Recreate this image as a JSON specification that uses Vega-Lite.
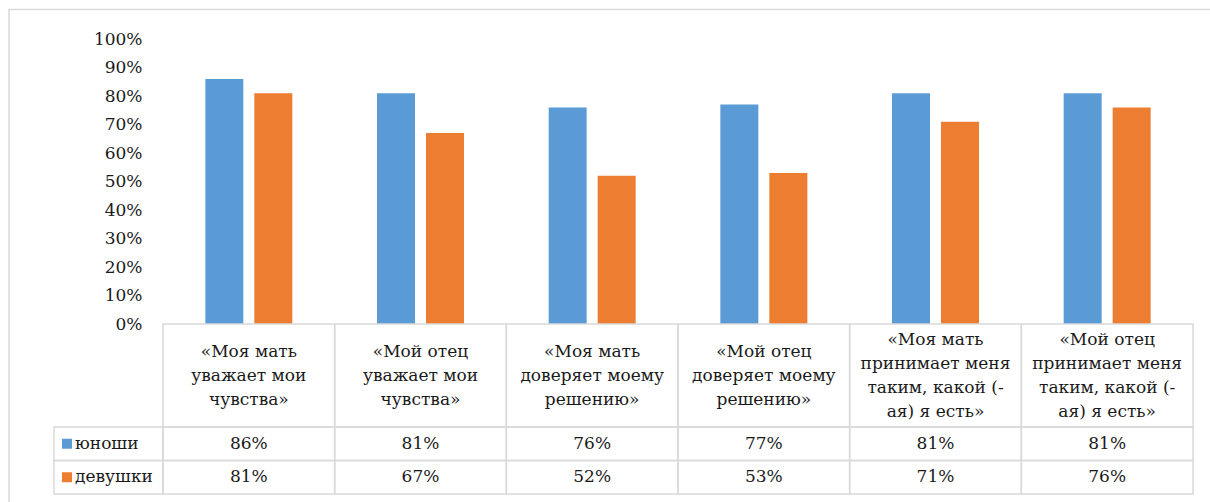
{
  "$schema": "https://vega.github.io/schema/vega-lite/v6.json",
  "width": 1030,
  "height": 285,
  "autosize": {"type": "none"},
  "padding": {"left": 163, "top": 39, "right": 17, "bottom": 178},
  "background": "white",
  "config": {
    "view": {"stroke": null},
    "font": "DejaVu Serif",
    "text": {"font": "DejaVu Serif", "fontSize": 17, "color": "#1a1a1a"}
  },
  "data": {
    "values": [
      {"category": "«Моя мать\nуважает мои\nчувства»", "group": "юноши", "value": 0.86},
      {"category": "«Моя мать\nуважает мои\nчувства»", "group": "девушки", "value": 0.81},
      {"category": "«Мой отец\nуважает мои\nчувства»", "group": "юноши", "value": 0.81},
      {"category": "«Мой отец\nуважает мои\nчувства»", "group": "девушки", "value": 0.67},
      {"category": "«Моя мать\nдоверяет моему\nрешению»", "group": "юноши", "value": 0.76},
      {"category": "«Моя мать\nдоверяет моему\nрешению»", "group": "девушки", "value": 0.52},
      {"category": "«Мой отец\nдоверяет моему\nрешению»", "group": "юноши", "value": 0.77},
      {"category": "«Мой отец\nдоверяет моему\nрешению»", "group": "девушки", "value": 0.53},
      {"category": "«Моя мать\nпринимает меня\nтаким, какой (-\nая) я есть»", "group": "юноши", "value": 0.81},
      {"category": "«Моя мать\nпринимает меня\nтаким, какой (-\nая) я есть»", "group": "девушки", "value": 0.71},
      {"category": "«Мой отец\nпринимает меня\nтаким, какой (-\nая) я есть»", "group": "юноши", "value": 0.81},
      {"category": "«Мой отец\nпринимает меня\nтаким, какой (-\nая) я есть»", "group": "девушки", "value": 0.76}
    ]
  },
  "layer": [
    {
      "data": {"values": [{"frame": "frame"}]},
      "mark": {"type": "rect", "fillOpacity": 0, "stroke": "#d9d9d9", "strokeWidth": 1.5},
      "encoding": {
        "x": {"field": "frame", "type": "nominal", "axis": null, "scale": {"range": [-154, 1070], "paddingInner": 0, "paddingOuter": 0}},
        "y": {"field": "frame", "type": "nominal", "axis": null, "scale": {"range": [-29.5, 480], "paddingInner": 0, "paddingOuter": 0}}
      }
    },
    {
      "mark": {"type": "bar"},
      "encoding": {
        "x": {"field": "category", "type": "nominal", "sort": null, "axis": null, "scale": {"paddingInner": 0, "paddingOuter": 0}},
        "xOffset": {"field": "group", "type": "nominal", "sort": ["юноши", "девушки"], "scale": {"domain": ["юноши", "девушки"], "paddingInner": 0.2245, "paddingOuter": 0.864}},
        "y": {
          "field": "value", "type": "quantitative",
          "scale": {"domain": [0, 1], "nice": false},
          "axis": {
            "values": [0, 0.1, 0.2, 0.3, 0.4, 0.5, 0.6, 0.7, 0.8, 0.9, 1],
            "format": ".0%", "title": null, "domain": false, "ticks": false,
            "labelPadding": 21, "labelFont": "DejaVu Serif", "labelFontSize": 17, "labelColor": "#1a1a1a",
            "gridColor": "#d9d9d9", "gridWidth": 1.4
          }
        },
        "color": {"field": "group", "type": "nominal", "legend": null, "scale": {"domain": ["юноши", "девушки"], "range": ["#5B9BD5", "#ED7D31"]}}
      }
    },
    {
      "transform": [{"filter": {"field": "group", "equal": "юноши"}}],
      "encoding": {
        "x": {"field": "category", "type": "nominal", "sort": null, "axis": null, "scale": {"paddingInner": 0, "paddingOuter": 0}},
        "y": {"datum": "header", "type": "nominal", "axis": null, "scale": {"domain": ["header"], "range": [285, 388], "paddingInner": 0, "paddingOuter": 0}}
      },
      "layer": [
        {"mark": {"type": "rect", "fillOpacity": 0, "stroke": "#d9d9d9", "strokeWidth": 1.5}},
        {
          "transform": [{"filter": {"not": {"field": "category", "oneOf": ["«Моя мать\nпринимает меня\nтаким, какой (-\nая) я есть»", "«Мой отец\nпринимает меня\nтаким, какой (-\nая) я есть»"]}}}],
          "mark": {"type": "text", "font": "DejaVu Serif", "lineBreak": "\n", "lineHeight": 24, "baseline": "middle", "align": "center", "dy": -24},
          "encoding": {"text": {"field": "category"}}
        },
        {
          "transform": [{"filter": {"field": "category", "oneOf": ["«Моя мать\nпринимает меня\nтаким, какой (-\nая) я есть»", "«Мой отец\nпринимает меня\nтаким, какой (-\nая) я есть»"]}}],
          "mark": {"type": "text", "font": "DejaVu Serif", "lineBreak": "\n", "lineHeight": 24, "baseline": "middle", "align": "center", "dy": -36},
          "encoding": {"text": {"field": "category"}}
        }
      ]
    },
    {
      "encoding": {
        "x": {"field": "category", "type": "nominal", "sort": null, "axis": null, "scale": {"paddingInner": 0, "paddingOuter": 0}},
        "y": {"field": "group", "type": "nominal", "axis": null, "scale": {"domain": ["юноши", "девушки"], "range": [388, 455], "paddingInner": 0, "paddingOuter": 0}}
      },
      "layer": [
        {"mark": {"type": "rect", "fillOpacity": 0, "stroke": "#d9d9d9", "strokeWidth": 1.5}},
        {"mark": {"type": "text", "font": "DejaVu Serif", "baseline": "middle", "align": "center"}, "encoding": {"text": {"field": "value", "format": ".0%"}}}
      ]
    },
    {
      "transform": [{"filter": {"field": "category", "equal": "«Моя мать\nуважает мои\nчувства»"}}],
      "encoding": {
        "x": {"datum": "legend", "type": "nominal", "axis": null, "scale": {"domain": ["legend"], "range": [-109, 0], "paddingInner": 0, "paddingOuter": 0}},
        "y": {"field": "group", "type": "nominal", "axis": null, "scale": {"domain": ["юноши", "девушки"], "range": [388, 455], "paddingInner": 0, "paddingOuter": 0}}
      },
      "layer": [
        {"mark": {"type": "rect", "fillOpacity": 0, "stroke": "#d9d9d9", "strokeWidth": 1.5}},
        {
          "mark": {"type": "square", "size": 100, "opacity": 1, "xOffset": 13},
          "encoding": {
            "x": {"datum": "legend", "type": "nominal", "bandPosition": 0, "axis": null, "scale": {"domain": ["legend"], "range": [-109, 0], "paddingInner": 0, "paddingOuter": 0}},
            "color": {"field": "group", "type": "nominal", "legend": null, "scale": {"domain": ["юноши", "девушки"], "range": ["#5B9BD5", "#ED7D31"]}}
          }
        },
        {
          "mark": {"type": "text", "font": "DejaVu Serif", "baseline": "middle", "align": "left", "dx": 21},
          "encoding": {
            "x": {"datum": "legend", "type": "nominal", "bandPosition": 0, "axis": null, "scale": {"domain": ["legend"], "range": [-109, 0], "paddingInner": 0, "paddingOuter": 0}},
            "text": {"field": "group"}
          }
        }
      ]
    }
  ],
  "resolve": {"scale": {"x": "independent", "y": "independent"}}
}
